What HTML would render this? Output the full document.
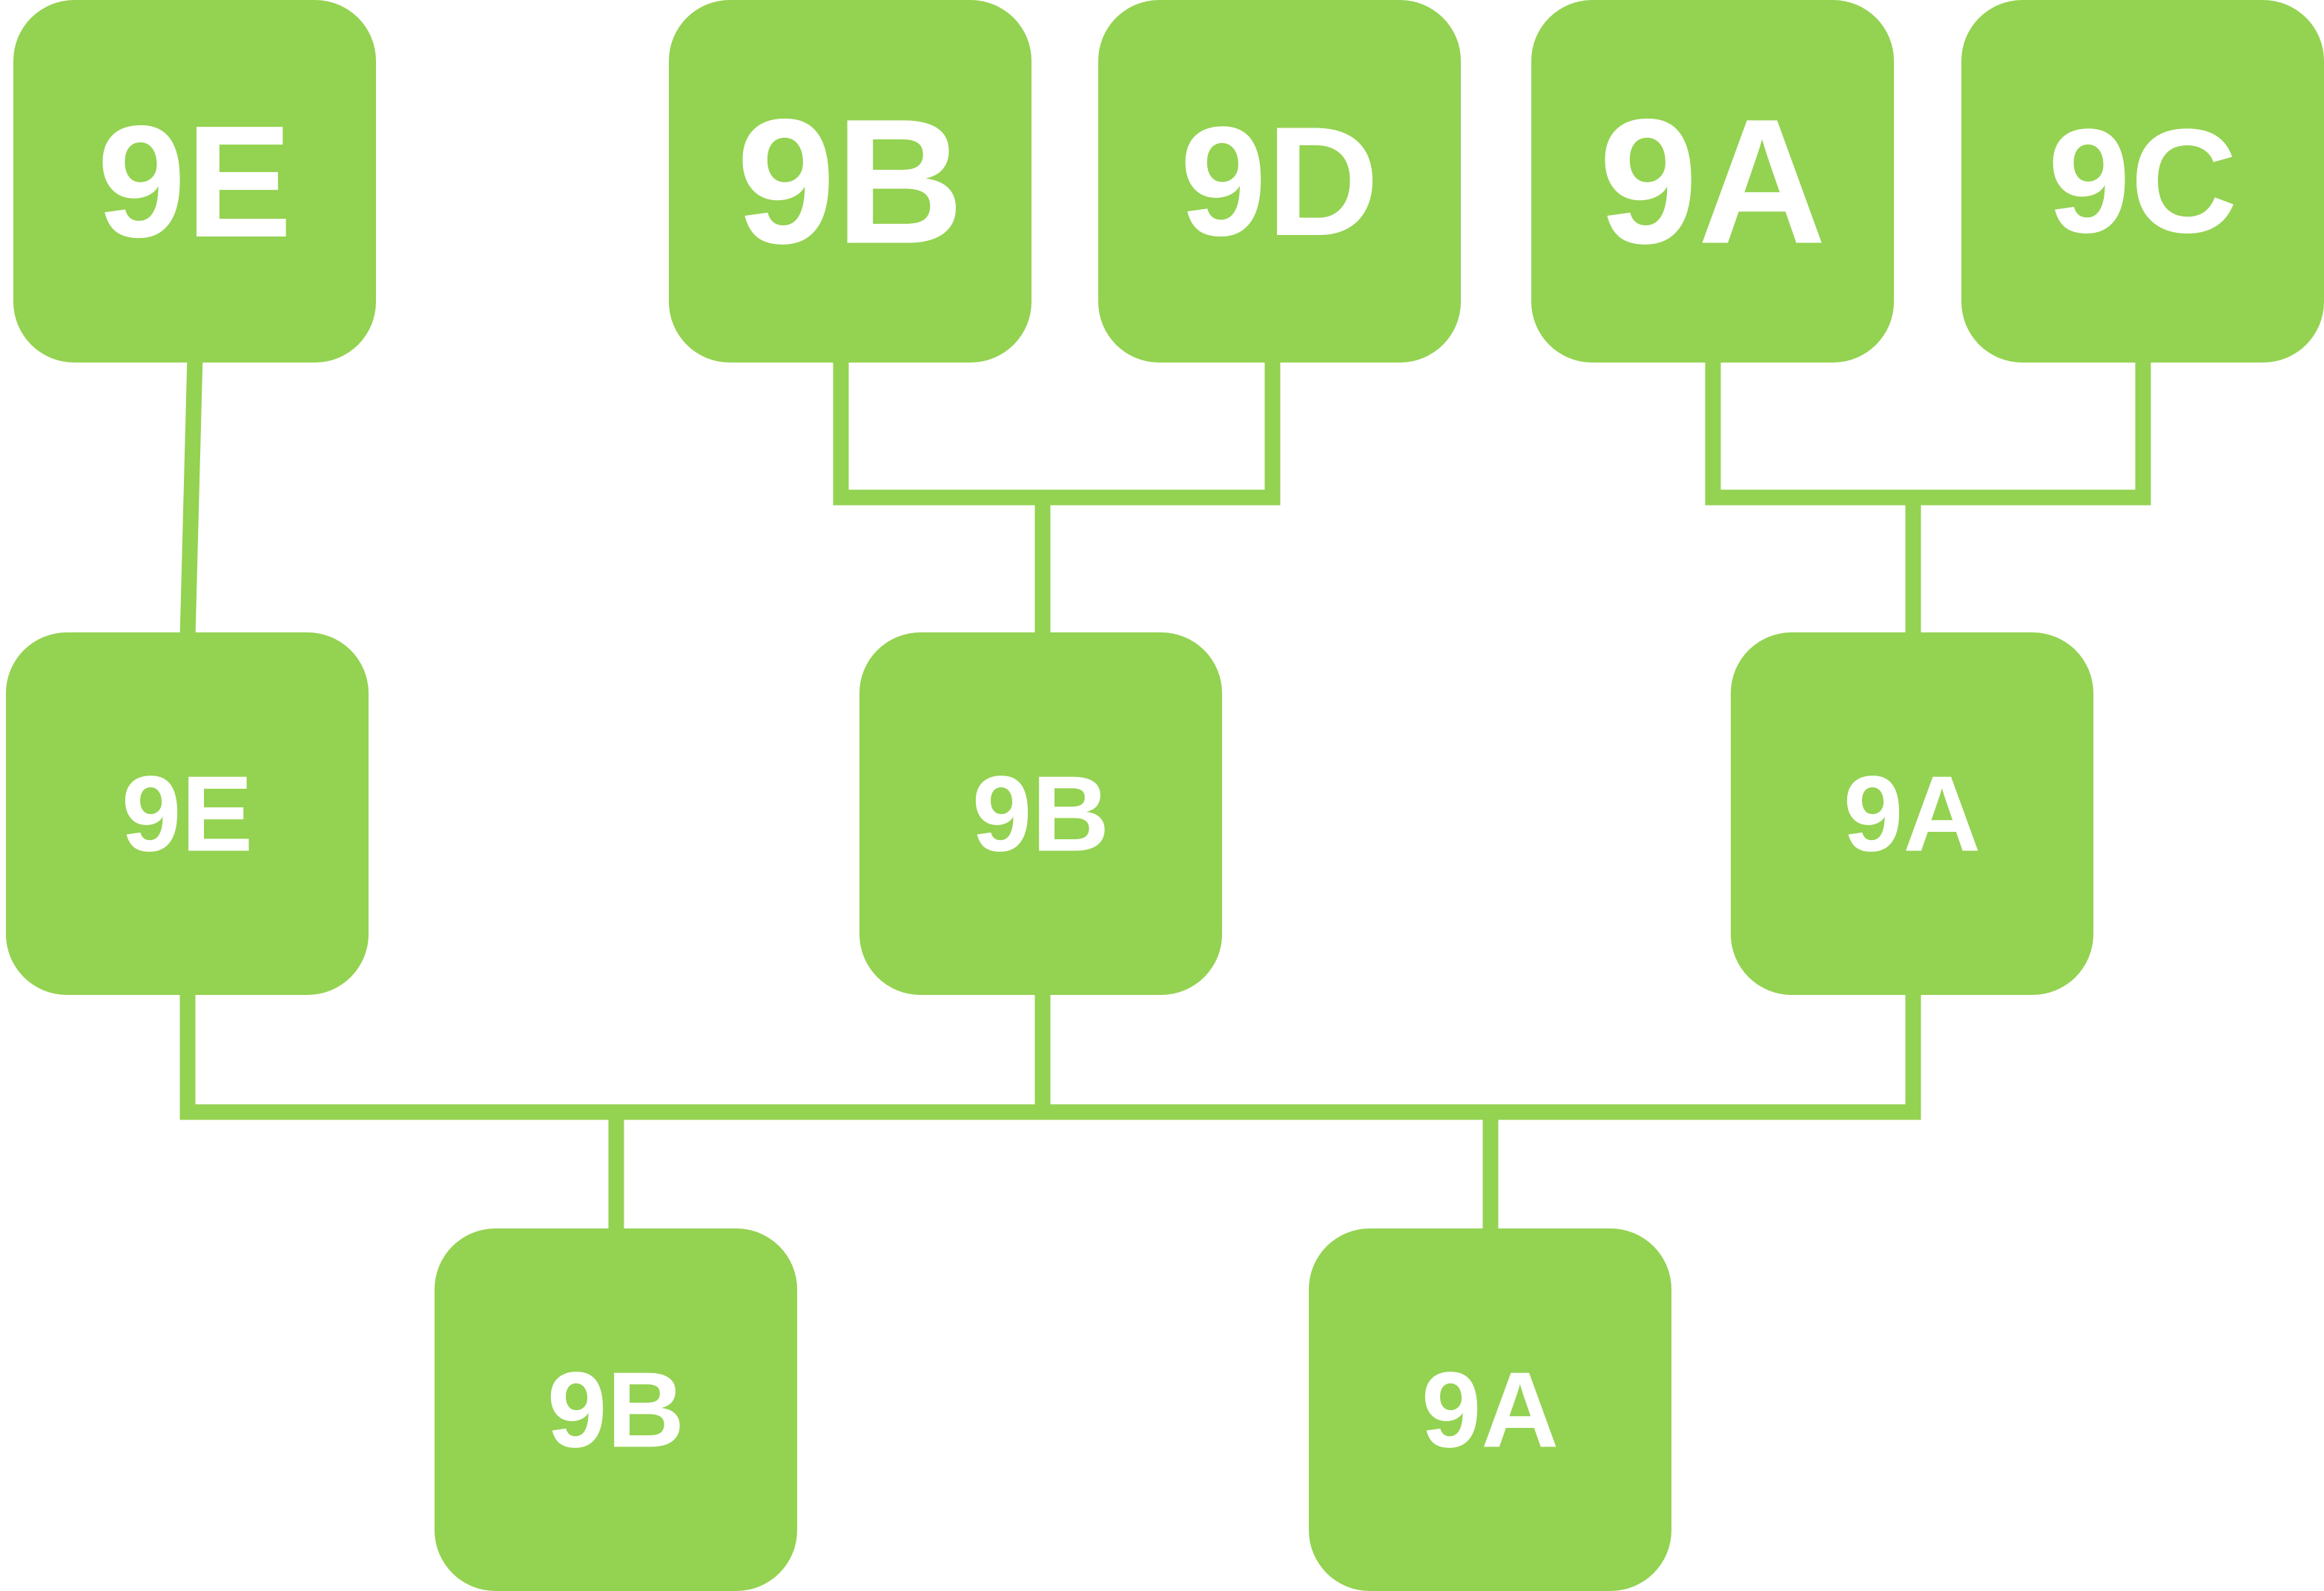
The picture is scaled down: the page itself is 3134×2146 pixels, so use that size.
<!DOCTYPE html>
<html><head><meta charset="utf-8"><style>
html,body{margin:0;padding:0;background:#fff;}
svg{display:block;}
text{font-family:"Liberation Sans Narrow","Liberation Sans",sans-serif;font-weight:bold;fill:#fff;}
</style></head>
<body>
<svg id="tree" width="3134" height="2146" viewBox="0 0 3134 2146" xmlns="http://www.w3.org/2000/svg">
<g id="links"></g>
<g id="nodes"></g>
</svg>
<script>
const labels = ["9E","9B","9D","9A","9C","9E","9B","9A","9B","9A"];
const nodeX = [18,902,1481,2065,2645,8,1159,2334,586,1765];
const nodeRow = [0,0,0,0,0,1,1,1,2,2];
const fontSizes = [215,240,210,240,200,145,145,145,145,145];
const rowTop = [0,853,1657];
const W = 489, H = 489, R = 82, C = "#94d251", SW = 21;
const NS = "http://www.w3.org/2000/svg";
const gN = document.getElementById('nodes');
const gL = document.getElementById('links');
function cx(i){return nodeX[i]+W/2;}
for(let i=0;i<labels.length;i++){
  const r=document.createElementNS(NS,'rect');
  r.setAttribute('x',nodeX[i]);r.setAttribute('y',rowTop[nodeRow[i]]);
  r.setAttribute('width',i===4?3134-nodeX[i]:W);r.setAttribute('height',H);
  r.setAttribute('rx',R);r.setAttribute('fill',C);
  
  
  gN.appendChild(r);
  const t=document.createElementNS(NS,'text');
  t.setAttribute('x',i===4?(nodeX[i]+3134)/2:cx(i));
  t.setAttribute('y',rowTop[nodeRow[i]]+H/2);
  t.setAttribute('text-anchor','middle');t.setAttribute('dominant-baseline','central');
  t.setAttribute('font-size',fontSizes[i]);
  t.textContent=labels[i];
  
  
  gN.appendChild(t);
}
const paths = [
  "M263,480 L253,860",
  "M1134,480 V671 H1716 V480",
  "M1406,671 V860",
  "M2310,480 V671 H2890 V480",
  "M2580,671 V860",
  "M253,1335 V1500 H2580 V1335",
  "M1406,1335 V1500",
  "M831,1500 V1665",
  "M2010,1500 V1665"
];
for(const d of paths){
  const p=document.createElementNS(NS,'path');
  p.setAttribute('d',d);p.setAttribute('fill','none');p.setAttribute('stroke',C);
  p.setAttribute('stroke-width',SW);p.setAttribute('stroke-linecap','square');
  
  
  gL.appendChild(p);
}
</script>
</body></html>
